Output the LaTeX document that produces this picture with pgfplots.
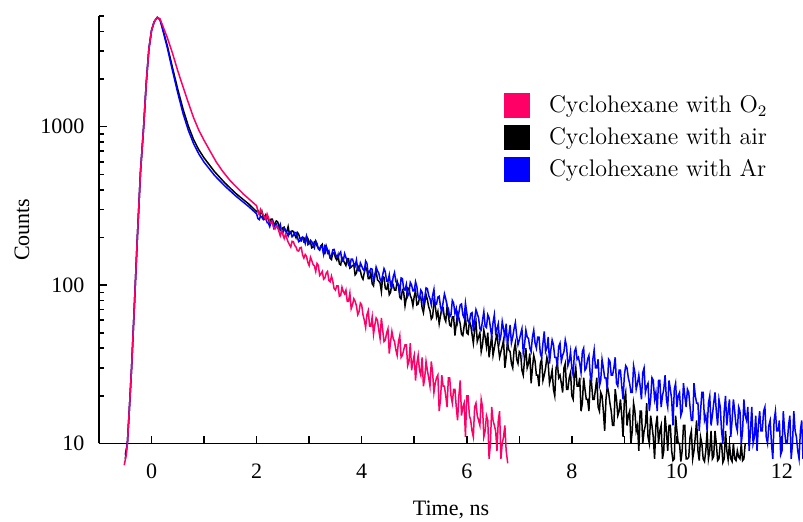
\documentclass[border=0pt]{standalone}
\usepackage{fontspec}
\usepackage{pgfplots}
\usepackage{pgfplotstable}
\pgfplotsset{compat=1.18}
\newfontfamily\tnr{Liberation Serif}
\definecolor{oxred}{RGB}{255,0,102}

% air-saturated sample
\pgfplotstableread{
t c
-0.50 8
-0.46 10
-0.42 17
-0.38 30
-0.33 70
-0.27 200
-0.21 520
-0.15 1000
-0.10 1900
-0.05 3100
0.00 4050
0.05 4600
0.11 4900
0.16 4750
0.20 4300
0.30 3250
0.40 2350
0.50 1720
0.60 1290
0.70 1010
0.80 830
0.90 715
1.00 635
1.20 520
1.40 440
1.60 380
1.85 325
2.000 291
2.025 295
2.050 280
2.075 282
2.100 293
2.125 268
2.150 262
2.175 278
2.200 270
2.225 259
2.250 247
2.275 261
2.300 261
2.325 242
2.350 245
2.375 254
2.400 251
2.425 237
2.450 221
2.475 222
2.500 230
2.525 232
2.550 218
2.575 218
2.600 234
2.625 210
2.650 213
2.675 220
2.700 218
2.725 208
2.750 199
2.775 215
2.800 210
2.825 197
2.850 191
2.875 200
2.900 199
2.925 184
2.950 203
2.975 197
3.000 183
3.025 187
3.050 172
3.075 174
3.100 188
3.125 189
3.150 177
3.175 171
3.200 169
3.225 177
3.250 181
3.275 158
3.300 158
3.325 176
3.350 165
3.375 159
3.400 148
3.425 145
3.450 160
3.475 160
3.500 149
3.525 144
3.550 155
3.575 136
3.600 134
3.625 149
3.650 143
3.675 138
3.700 133
3.725 147
3.750 147
3.775 128
3.800 130
3.825 133
3.850 134
3.875 116
3.900 119
3.925 133
3.950 128
3.975 123
4.000 113
4.025 109
4.050 120
4.075 130
4.100 124
4.125 110
4.150 110
4.175 120
4.200 102
4.225 99
4.250 116
4.275 123
4.300 108
4.325 106
4.350 103
4.375 91
4.400 113
4.425 112
4.450 95
4.475 94
4.500 102
4.525 87
4.550 90
4.575 104
4.600 100
4.625 93
4.650 93
4.675 106
4.700 99
4.725 84
4.750 82
4.775 93
4.800 90
4.825 74
4.850 83
4.875 96
4.900 95
4.925 86
4.950 82
4.975 74
5.000 85
5.025 92
5.050 75
5.075 76
5.100 83
5.125 84
5.150 72
5.175 67
5.200 77
5.225 87
5.250 81
5.275 73
5.300 69
5.325 61
5.350 63
5.375 79
5.400 74
5.425 63
5.450 68
5.475 57
5.500 64
5.525 72
5.550 72
5.575 62
5.600 59
5.625 73
5.650 64
5.675 56
5.700 55
5.725 63
5.750 63
5.775 48
5.800 57
5.825 66
5.850 62
5.875 57
5.900 49
5.925 48
5.950 55
5.975 63
6.000 50
6.025 49
6.050 59
6.075 56
6.100 49
6.125 43
6.150 52
6.175 59
6.200 44
6.225 47
6.250 50
6.275 38
6.300 42
6.325 52
6.350 47
6.375 41
6.400 50
6.425 35
6.450 41
6.475 48
6.500 36
6.525 40
6.550 45
6.575 49
6.600 41
6.625 35
6.650 38
6.675 41
6.700 45
6.725 30
6.750 35
6.775 44
6.800 39
6.825 38
6.850 32
6.875 30
6.900 39
6.925 43
6.950 34
6.975 32
7.000 38
7.025 37
7.050 29
7.075 27
7.100 34
7.125 40
7.150 30
7.175 32
7.200 37
7.225 24
7.250 30
7.275 36
7.300 33
7.325 27
7.350 27
7.375 23
7.400 32
7.425 34
7.450 25
7.475 27
7.500 30
7.525 35
7.550 32
7.575 24
7.600 26
7.625 29
7.650 22
7.675 20
7.700 30
7.725 32
7.750 26
7.775 27
7.800 24
7.825 21
7.850 30
7.875 32
7.900 22
7.925 22
7.950 26
7.975 28
8.000 20
8.025 19
8.050 26
8.075 30
8.100 23
8.125 23
8.150 26
8.175 16
8.200 18
8.225 26
8.250 22
8.275 19
8.300 19
8.325 16
8.350 25
8.375 24
8.400 19
8.425 19
8.450 22
8.475 26
8.500 17
8.525 16
8.550 21
8.575 20
8.600 16
8.625 12
8.650 19
8.675 23
8.700 21
8.725 18
8.750 16
8.775 13
8.800 13
8.825 22
8.850 19
8.875 15
8.900 16
8.925 19
8.950 15
8.975 11
9.000 19
9.025 21
9.050 13
9.075 15
9.100 16
9.125 10
9.150 12
9.175 18
9.200 16
9.225 12
9.250 13
9.275 9
9.300 16
9.325 16
9.350 10
9.375 12
9.400 13
9.425 18
9.450 11
9.475 10
9.500 15
9.525 13
9.550 11
9.575 8
9.600 13
9.625 15
9.650 10
9.675 12
9.700 13
9.725 8
9.750 9
9.775 15
9.800 12
9.825 9
9.850 13
9.875 13
9.900 9
9.925 7.8
9.950 8
9.975 15
10.000 12
10.025 10
10.050 10
10.075 7.7
10.100 9
10.125 13
10.150 13
10.175 8
10.200 8
10.225 8.2
10.250 11
10.275 12
10.300 8
10.325 9
10.350 11
10.375 14
10.400 9
10.425 7.8
10.450 11
10.475 10
10.500 8
10.525 7.7
10.550 9
10.575 12
10.600 8
10.625 9
10.650 12
10.675 8
10.700 8.3
10.725 12
10.750 10
10.775 7.8
10.800 8
10.825 10
10.850 10
10.875 7.6
10.900 8
10.925 12
10.950 9
10.975 7.9
11.000 10
11.025 8
11.050 7.7
11.075 10
11.100 8
11.125 7.8
11.150 9
11.175 8.2
11.200 8
11.225 10
11.250 7.8
11.275 8
11.300 10
}\airdata

% argon-purged sample
\pgfplotstableread{
t c
-0.50 8.5
-0.46 10
-0.42 17
-0.38 30
-0.33 70
-0.27 200
-0.21 520
-0.15 1000
-0.10 1900
-0.05 3100
0.00 4050
0.05 4600
0.11 4900
0.16 4750
0.20 4250
0.30 3150
0.40 2250
0.50 1630
0.60 1210
0.70 950
0.80 782
0.90 673
1.00 597
1.20 492
1.40 421
1.60 366
1.85 313
2.000 282
2.025 263
2.050 259
2.075 273
2.100 268
2.125 260
2.150 272
2.175 267
2.200 248
2.225 246
2.250 234
2.275 249
2.300 253
2.325 230
2.350 239
2.375 243
2.400 229
2.425 231
2.450 242
2.475 218
2.500 214
2.525 229
2.550 223
2.575 214
2.600 204
2.625 217
2.650 218
2.675 202
2.700 206
2.725 215
2.750 214
2.775 202
2.800 188
2.825 190
2.850 199
2.875 201
2.900 187
2.925 187
2.950 203
2.975 180
3.000 183
3.025 192
3.050 188
3.075 180
3.100 172
3.125 190
3.150 183
3.175 169
3.200 166
3.225 176
3.250 174
3.275 157
3.300 178
3.325 176
3.350 160
3.375 165
3.400 150
3.425 153
3.450 167
3.475 168
3.500 157
3.525 151
3.550 150
3.575 157
3.600 162
3.625 141
3.650 142
3.675 158
3.700 149
3.725 144
3.750 134
3.775 131
3.800 146
3.825 146
3.850 137
3.875 132
3.900 144
3.925 124
3.950 123
3.975 138
4.000 132
4.025 126
4.050 123
4.075 142
4.100 137
4.125 117
4.150 122
4.175 127
4.200 126
4.225 105
4.250 114
4.275 130
4.300 123
4.325 119
4.350 109
4.375 105
4.400 116
4.425 127
4.450 121
4.475 106
4.500 106
4.525 116
4.550 99
4.575 97
4.600 113
4.625 120
4.650 105
4.675 103
4.700 101
4.725 89
4.750 111
4.775 110
4.800 94
4.825 93
4.850 101
4.875 85
4.900 89
4.925 104
4.950 100
4.975 92
5.000 92
5.025 105
5.050 98
5.075 84
5.100 82
5.125 93
5.150 90
5.175 75
5.200 83
5.225 96
5.250 95
5.275 86
5.300 82
5.325 75
5.350 86
5.375 94
5.400 75
5.425 76
5.450 84
5.475 85
5.500 73
5.525 68
5.550 78
5.575 88
5.600 82
5.625 74
5.650 71
5.675 63
5.700 65
5.725 80
5.750 77
5.775 66
5.800 71
5.825 59
5.850 67
5.875 75
5.900 76
5.925 65
5.950 62
5.975 77
6.000 67
6.025 59
6.050 58
6.075 66
6.100 67
6.125 51
6.150 61
6.175 70
6.200 66
6.225 62
6.250 53
6.275 52
6.300 60
6.325 68
6.350 55
6.375 54
6.400 65
6.425 62
6.450 54
6.475 47
6.500 58
6.525 65
6.550 50
6.575 53
6.600 57
6.625 44
6.650 48
6.675 59
6.700 53
6.725 47
6.750 57
6.775 42
6.800 48
6.825 56
6.850 43
6.875 47
6.900 53
6.925 58
6.950 48
6.975 42
7.000 45
7.025 49
7.050 53
7.075 37
7.100 42
7.125 52
7.150 47
7.175 46
7.200 40
7.225 38
7.250 47
7.275 52
7.300 43
7.325 40
7.350 47
7.375 47
7.400 37
7.425 35
7.450 43
7.475 51
7.500 38
7.525 40
7.550 47
7.575 32
7.600 39
7.625 45
7.650 42
7.675 35
7.700 35
7.725 31
7.750 41
7.775 43
7.800 33
7.825 36
7.850 38
7.875 45
7.900 41
7.925 31
7.950 33
7.975 38
8.000 30
8.025 27
8.050 38
8.075 40
8.100 34
8.125 35
8.150 32
8.175 28
8.200 38
8.225 40
8.250 29
8.275 30
8.300 34
8.325 36
8.350 27
8.375 25
8.400 34
8.425 39
8.450 30
8.475 30
8.500 34
8.525 23
8.550 25
8.575 34
8.600 30
8.625 26
8.650 26
8.675 22
8.700 34
8.725 33
8.750 27
8.775 27
8.800 30
8.825 35
8.850 24
8.875 23
8.900 29
8.925 29
8.950 23
8.975 19
9.000 27
9.025 31
9.050 30
9.075 26
9.100 24
9.125 21
9.150 21
9.175 31
9.200 28
9.225 22
9.250 24
9.275 27
9.300 23
9.325 19
9.350 28
9.375 30
9.400 21
9.425 23
9.450 24
9.475 16
9.500 19
9.525 26
9.550 25
9.575 19
9.600 21
9.625 16
9.650 25
9.675 25
9.700 17
9.725 20
9.750 22
9.775 27
9.800 19
9.825 17
9.850 25
9.875 22
9.900 19
9.925 13
9.950 22
9.975 24
10.000 17
10.025 20
10.050 21
10.075 15
10.100 16
10.125 24
10.150 20
10.175 17
10.200 22
10.225 21
10.250 17
10.275 14
10.300 14
10.325 24
10.350 20
10.375 18
10.400 18
10.425 12
10.450 16
10.475 21
10.500 21
10.525 14
10.550 15
10.575 12
10.600 18
10.625 20
10.650 13
10.675 15
10.700 18
10.725 21
10.750 16
10.775 13
10.800 19
10.825 17
10.850 12
10.875 10
10.900 16
10.925 20
10.950 13
10.975 16
11.000 19
11.025 11
11.050 14
11.075 19
11.100 16
11.125 13
11.150 12
11.175 17
11.200 16
11.225 10
11.250 12
11.275 19
11.300 15
11.325 14
11.350 17
11.375 9
11.400 12
11.425 17
11.450 10
11.475 11
11.500 15
11.525 9
11.550 13
11.575 16
11.600 12
11.625 12
11.650 16
11.675 17
11.700 11
11.725 10
11.750 13
11.775 14
11.800 10
11.825 8
11.850 14
11.875 16
11.900 12
11.925 12
11.950 14
11.975 8.5
12.000 9
12.025 16
12.050 12
12.075 10
12.100 10
12.125 13
12.150 15
12.175 8
12.200 10
12.225 16
12.250 12
12.275 11
12.300 9
12.325 8
12.350 12
12.375 14
12.400 8
}\ardata

% oxygen-saturated sample
\pgfplotstableread{
t c
-0.52 7.3
-0.48 8.5
-0.46 10
-0.42 17
-0.38 30
-0.33 70
-0.27 200
-0.21 520
-0.15 1000
-0.10 1900
-0.05 3100
0.00 4050
0.05 4600
0.11 4900
0.16 4800
0.20 4450
0.30 3650
0.40 2900
0.50 2250
0.60 1780
0.70 1420
0.80 1140
0.90 950
1.00 820
1.10 715
1.23 600
1.35 525
1.50 455
1.75 375
2.000 317
2.025 292
2.050 280
2.075 301
2.100 288
2.125 279
2.150 268
2.175 260
2.200 281
2.225 267
2.250 252
2.275 246
2.300 251
2.325 231
2.350 226
2.375 236
2.400 232
2.425 218
2.450 205
2.475 220
2.500 208
2.525 197
2.550 210
2.575 198
2.600 187
2.625 180
2.650 174
2.675 189
2.700 188
2.725 178
2.750 174
2.775 165
2.800 164
2.825 172
2.850 173
2.875 155
2.900 148
2.925 156
2.950 152
2.975 139
3.000 133
3.025 150
3.050 143
3.075 135
3.100 132
3.125 122
3.150 137
3.175 133
3.200 115
3.225 118
3.250 122
3.275 109
3.300 111
3.325 119
3.350 122
3.375 107
3.400 105
3.425 114
3.450 106
3.475 95
3.500 93
3.525 99
3.550 99
3.575 85
3.600 86
3.625 97
3.650 91
3.675 88
3.700 93
3.725 79
3.750 79
3.775 89
3.800 71
3.825 75
3.850 82
3.875 79
3.900 74
3.925 65
3.950 68
3.975 77
4.000 75
4.025 65
4.050 60
4.075 54
4.100 65
4.125 69
4.150 55
4.175 55
4.200 63
4.225 49
4.250 56
4.275 62
4.300 60
4.325 52
4.350 46
4.375 62
4.400 52
4.425 44
4.450 45
4.475 50
4.500 53
4.525 37
4.550 44
4.575 51
4.600 46
4.625 44
4.650 39
4.675 36
4.700 44
4.725 48
4.750 35
4.775 36
4.800 39
4.825 42
4.850 42
4.875 31
4.900 33
4.925 43
4.950 29
4.975 33
5.000 36
5.025 25
5.050 32
5.075 36
5.100 29
5.125 27
5.150 35
5.175 23
5.200 26
5.225 33
5.250 29
5.275 26
5.300 23
5.325 33
5.350 28
5.375 21
5.400 24
5.425 26
5.450 27
5.475 16
5.500 19
5.525 27
5.550 23
5.575 23
5.600 20
5.625 17
5.650 26
5.675 26
5.700 20
5.725 18
5.750 22
5.775 22
5.800 17
5.825 14
5.850 20
5.875 25
5.900 15
5.925 17
5.950 18
5.975 11
6.000 20
6.025 20
6.050 15
6.075 14
6.100 12
6.125 11
6.150 17
6.175 18
6.200 15
6.225 14
6.250 13
6.275 19
6.300 17
6.325 11
6.350 12
6.375 15
6.400 14
6.425 8
6.450 10
6.475 17
6.500 14
6.525 13
6.550 12
6.575 9
6.600 14
6.625 16
6.650 8
6.675 10
6.700 11
6.725 13
6.750 9
6.780 7.5
}\oxdata

\begin{document}
\begin{tikzpicture}
\begin{axis}[
  scale only axis, width=352pt, height=213.75pt,
  at={(0,0)}, anchor=south west,
  ymode=log, xmin=-1, xmax=12.4, ymin=10, ymax=5000,
  axis lines=left, axis line style={-, line width=0.9pt},
  tick align=inside, tick style={black, line width=0.8pt},
  major tick length=4pt, minor tick length=2.5pt,
  xtick={0,1,...,12}, xticklabels={0,,2,,4,,6,,8,,10,,12},
  ytick={10,100,1000}, yticklabels={10,100,1000},
  minor ytick={20,30,40,50,60,70,80,90,200,300,400,500,600,700,800,900,2000,3000,4000,5000},
  /pgf/number format/assume math mode=true,
  tick label style={font=\fontsize{11}{13}\tnr},
  xticklabel style={yshift=-6.8pt},
  yticklabel style={xshift=-3.8pt},
  label style={font=\fontsize{11}{13}\tnr},
  xlabel={Time, ns}, ylabel={Counts},
  xlabel style={at={(axis description cs:0.5,-0.1556)}, anchor=center},
  ylabel style={at={(axis description cs:-0.1094,0.5)}, anchor=center},
  clip=false,
  legend style={draw=none, fill=none, inner sep=0pt,
    at={(axis description cs:0.574,0.824)}, anchor=north west,
    font=\fontsize{12}{14}\selectfont, row sep=2.05pt},
  legend cell align=left,
  every axis plot/.append style={line width=0.75pt, no markers},
]
\addplot[black, forget plot] table[x=t, y=c] {\airdata};
\addplot[blue, forget plot] table[x=t, y=c] {\ardata};
\addplot[oxred, forget plot] table[x=t, y=c] {\oxdata};

\addlegendimage{legend image code/.code={\fill[oxred] (0pt,-6pt) rectangle (12.5pt,6pt); \path (20pt,0pt);}}
\addlegendentry{Cyclohexane with O$_2$}
\addlegendimage{legend image code/.code={\fill[black] (0pt,-6pt) rectangle (12.5pt,6pt); \path (20pt,0pt);}}
\addlegendentry{Cyclohexane with air}
\addlegendimage{legend image code/.code={\fill[blue] (0pt,-6pt) rectangle (12.5pt,6pt); \path (20pt,0pt);}}
\addlegendentry{Cyclohexane with Ar}
\end{axis}
\pgfresetboundingbox
\path[use as bounding box] (-49.5pt,-39.25pt) rectangle (352pt,221.75pt);
\end{tikzpicture}
\end{document}
